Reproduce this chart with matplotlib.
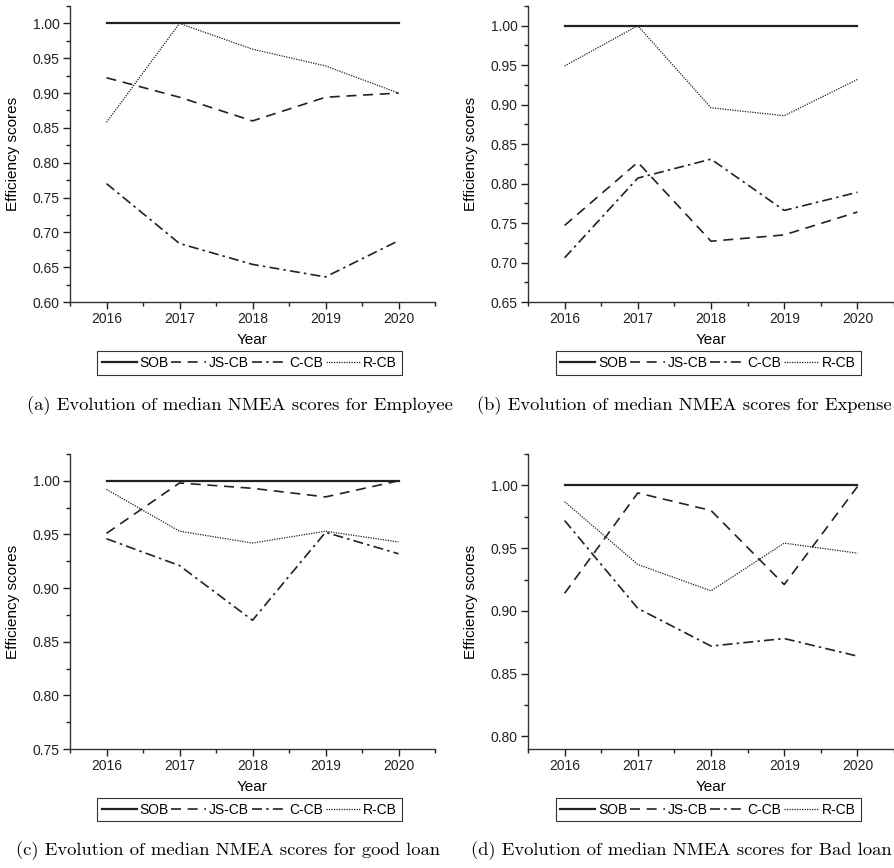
import numpy as np
import matplotlib
matplotlib.use('Agg')
import matplotlib.pyplot as plt
from matplotlib.ticker import MultipleLocator, FormatStrFormatter

plt.rcParams['font.family'] = ['Liberation Sans', 'DejaVu Sans']

years = [2016, 2017, 2018, 2019, 2020]
names = ['SOB', 'JS-CB', 'C-CB', 'R-CB']

# (a) Employee
emp_sob = [1.0, 1.0, 1.0, 1.0, 1.0]
emp_js = [0.922, 0.894, 0.860, 0.894, 0.900]
emp_c = [0.770, 0.684, 0.654, 0.636, 0.688]
emp_r = [0.858, 1.000, 0.963, 0.939, 0.900]

# (b) Expense
exp_sob = [1.0, 1.0, 1.0, 1.0, 1.0]
exp_js = [0.747, 0.827, 0.727, 0.735, 0.764]
exp_c = [0.706, 0.807, 0.831, 0.766, 0.789]
exp_r = [0.949, 1.000, 0.896, 0.886, 0.932]

# (c) good loan
gl_sob = [1.0, 1.0, 1.0, 1.0, 1.0]
gl_js = [0.951, 0.998, 0.993, 0.985, 1.000]
gl_c = [0.946, 0.921, 0.870, 0.952, 0.932]
gl_r = [0.992, 0.953, 0.942, 0.953, 0.943]

# (d) Bad loan
bl_sob = [1.0, 1.0, 1.0, 1.0, 1.0]
bl_js = [0.914, 0.994, 0.980, 0.921, 0.999]
bl_c = [0.972, 0.902, 0.872, 0.878, 0.864]
bl_r = [0.987, 0.937, 0.916, 0.954, 0.946]

captions = ['(a) Evolution of median NMEA scores for Employee',
            '(b) Evolution of median NMEA scores for Expense',
            '(c) Evolution of median NMEA scores for good loan',
            '(d) Evolution of median NMEA scores for Bad loan']

W, H = 895.0, 868.0
fig = plt.figure(figsize=(8.95, 8.68), dpi=100)

# axes boxes in pixels: left, top, right, bottom
boxes = [(70, 6, 435, 302), (528, 6, 894, 302),
         (70, 454, 435, 749), (528, 454, 894, 749)]
ylims = [(0.60, 1.025), (0.65, 1.025), (0.75, 1.025), (0.79, 1.025)]
ymins = [0.60, 0.65, 0.75, 0.80]
data = [(emp_sob, emp_js, emp_c, emp_r), (exp_sob, exp_js, exp_c, exp_r),
        (gl_sob, gl_js, gl_c, gl_r), (bl_sob, bl_js, bl_c, bl_r)]
cap_pos = [(240, 406), (684, 406), (228, 851), (681, 851)]

col = '#222222'
for i in range(4):
    l, t, r, b = boxes[i]
    ax = fig.add_axes([l / W, 1 - b / H, (r - l) / W, (b - t) / H])
    sob, js, cc, rc = data[i]
    ax.plot(years, sob, color=col, lw=1.6, ls='-', label=names[0])
    ax.plot(years, js, color=col, lw=1.2, ls=(0, (6, 4)), label=names[1])
    ax.plot(years, cc, color=col, lw=1.2, ls=(0, (6, 2.5, 1.5, 2.5)), label=names[2])
    ax.plot(years, rc, color=col, lw=0.9, ls=(0, (1, 1)), label=names[3])
    ax.set_xlim(2015.5, 2020.5)
    ax.set_ylim(*ylims[i])
    ax.set_xticks(years)
    ax.xaxis.set_minor_locator(MultipleLocator(0.5))
    ax.set_yticks(np.arange(ymins[i], 1.0001, 0.05))
    ax.yaxis.set_minor_locator(MultipleLocator(0.025))
    ax.yaxis.set_major_formatter(FormatStrFormatter('%.2f'))
    ax.spines['top'].set_visible(False)
    ax.spines['right'].set_visible(False)
    for s in ['left', 'bottom']:
        ax.spines[s].set_color('#333333')
        ax.spines[s].set_linewidth(1.0)
    ax.tick_params(which='major', direction='out', length=5, width=1.0,
                   labelsize=10, colors='#222222', pad=2.5)
    ax.tick_params(which='minor', direction='out', length=3, width=1.0,
                   colors='#222222')
    ax.set_xlabel('Year', fontsize=11, labelpad=5)
    ax.set_ylabel('Efficiency scores', fontsize=11, labelpad=9)
    leg = ax.legend(loc='upper center', bbox_to_anchor=(0.492, -0.165), ncol=4,
                    fontsize=10, frameon=True, fancybox=False, borderaxespad=0,
                    handlelength=2.5, handletextpad=0.2, columnspacing=0.2,
                    borderpad=0.35)
    leg.get_frame().set_edgecolor('black')
    leg.get_frame().set_linewidth(0.8)
    cx, cy = cap_pos[i]
    fig.text(cx / W, 1 - cy / H, captions[i], ha='center', va='center',
             fontsize=13.4, family='cmr10')

fig.savefig('out.png', dpi=100)
